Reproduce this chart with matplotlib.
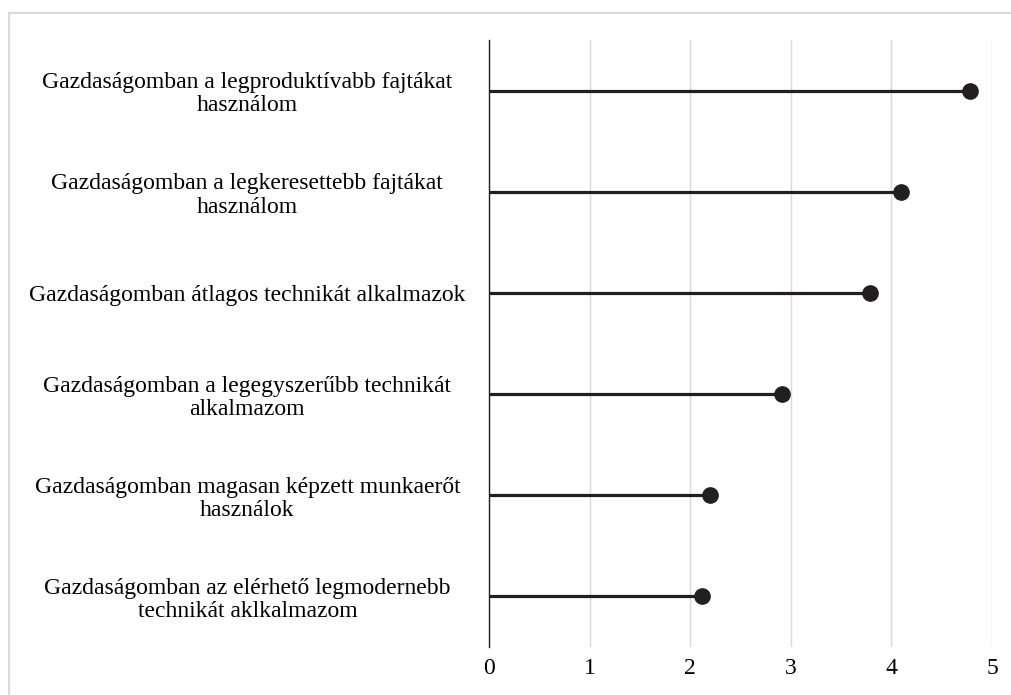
import matplotlib
matplotlib.use("Agg")
import matplotlib.pyplot as plt
from matplotlib.patches import Rectangle

plt.rcParams["font.family"] = ["Liberation Serif", "DejaVu Serif"]

# adatok (felülről lefelé)
labels = [
    "Gazdaságomban a legproduktívabb fajtákat\nhasználom",
    "Gazdaságomban a legkeresettebb fajtákat\nhasználom",
    "Gazdaságomban átlagos technikát alkalmazok",
    "Gazdaságomban a legegyszerűbb technikát\nalkalmazom",
    "Gazdaságomban magasan képzett munkaerőt\nhasználok",
    "Gazdaságomban az elérhető legmodernebb\ntechnikát aklkalmazom",
]
values = [4.78, 4.10, 3.79, 2.91, 2.20, 2.12]
xticks = [0, 1, 2, 3, 4, 5]

DARK = "#231f20"
GRID = "#d9d9d9"

fig = plt.figure(figsize=(10.12, 6.95), dpi=100)
fig.patches.append(Rectangle((9 / 1012, -0.1), 1.2, 1 - 13 / 695 + 0.1,
                             transform=fig.transFigure, fill=False,
                             edgecolor="#d9d9d9", lw=1.5))
ax = fig.add_axes([489 / 1012, 48 / 695, 503 / 1012, 607 / 695])

y = list(range(len(labels)))
ax.hlines(y, 0, values, color=DARK, lw=2.3, zorder=3)
ax.plot(values, y, "o", color=DARK, ms=11, zorder=4)

ax.set_xlim(0, 5)
ax.set_ylim(len(labels) - 0.5, -0.5)
ax.set_xticks(xticks)
ax.set_xticklabels([str(t) for t in xticks], fontsize=17)
ax.set_yticks(y)
ax.set_yticklabels(labels, fontsize=17, ha="center", linespacing=1.15)
ax.tick_params(axis="y", length=0, pad=174)
ax.tick_params(axis="x", length=0, pad=8)

ax.grid(axis="x", color=GRID, lw=1)
ax.set_axisbelow(True)
for s in ["top", "right", "bottom"]:
    ax.spines[s].set_visible(False)
ax.spines["left"].set_color(DARK)
ax.spines["left"].set_linewidth(1)

fig.savefig("out.png", dpi=100, facecolor="white")
